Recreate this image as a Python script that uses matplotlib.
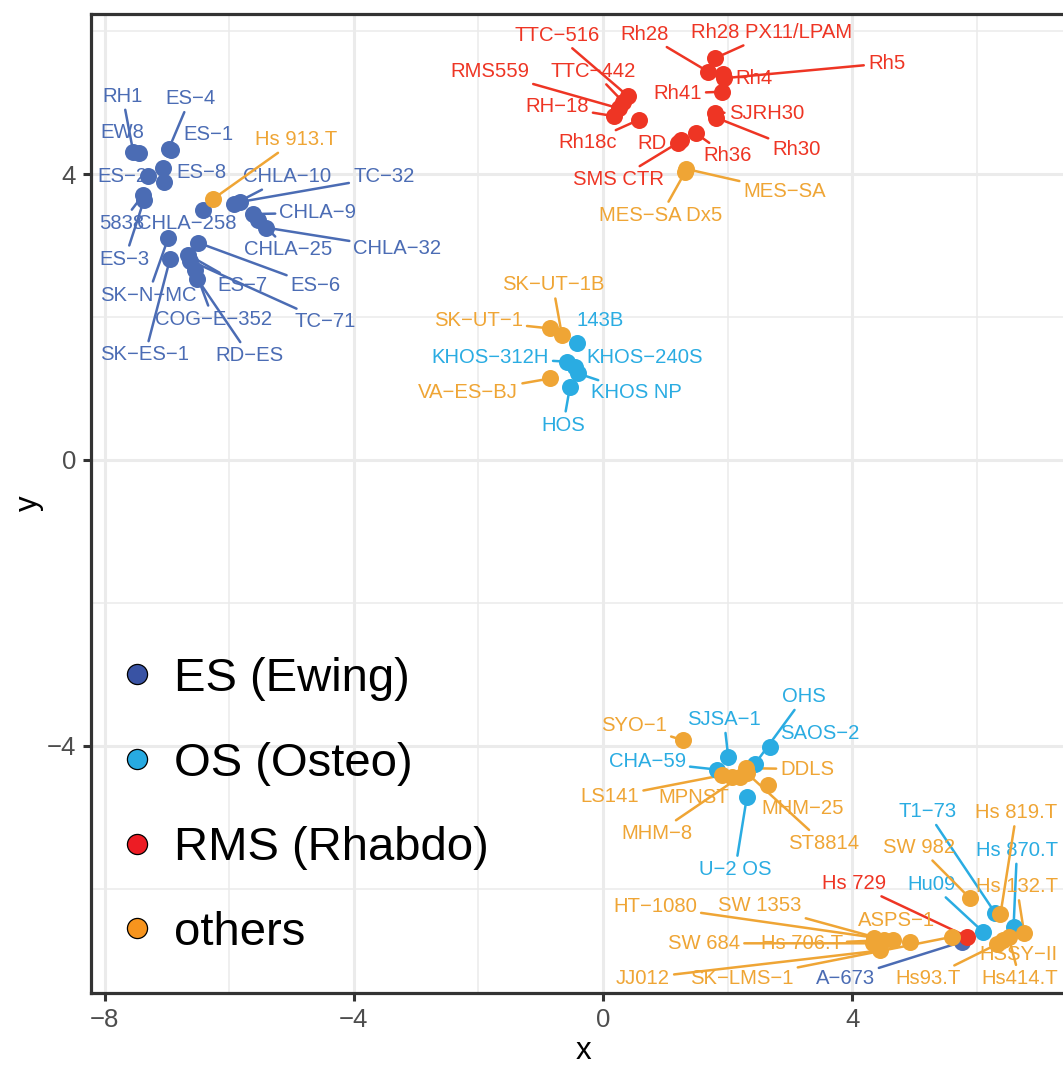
import math

import matplotlib
matplotlib.use('Agg')
import matplotlib.pyplot as plt
import matplotlib.text as mtext
from matplotlib.lines import Line2D
from matplotlib.ticker import MultipleLocator

plt.rcParams['font.family'] = ['Liberation Sans', 'DejaVu Sans']

# ---- cell line embedding, one block per group ----
es_names = ['RH1', 'EW8', 'ES-4', 'ES-1', 'ES-8', 'ES-2', 'ES-5', '5838', 'ES-3',
            'CHLA-258', 'CHLA-10', 'TC-32', 'CHLA-9', 'CHLA-25', 'CHLA-32',
            'SK-N-MC', 'SK-ES-1', 'ES-6', 'ES-7', 'TC-71', 'COG-E-352', 'RD-ES', 'A-673']
es_x = [-7.54, -7.45, -6.97, -6.94, -7.06, -7.30, -7.05, -7.38, -7.37,
        -6.42, -5.92, -5.82, -5.61, -5.53, -5.41,
        -6.98, -6.95, -6.50, -6.66, -6.63, -6.55, -6.51, 5.76]
es_y = [4.31, 4.29, 4.35, 4.34, 4.09, 3.97, 3.89, 3.71, 3.63,
        3.49, 3.58, 3.61, 3.44, 3.36, 3.25,
        3.10, 2.81, 3.04, 2.87, 2.79, 2.66, 2.53, -6.74]

os_names = ['143B', 'KHOS-312H', 'KHOS-240S', 'KHOS NP', 'HOS', 'SJSA-1', 'SAOS-2',
            'OHS', 'CHA-59', 'U-2 OS', 'T1-73', 'Hs 870.T', 'Hu09']
os_x = [-0.42, -0.58, -0.45, -0.40, -0.53, 2.01, 2.68, 2.44, 1.825, 2.31, 6.29, 6.59, 6.10]
os_y = [1.63, 1.375, 1.30, 1.21, 1.025, -4.15, -4.01, -4.25, -4.33, -4.71, -6.33, -6.53, -6.60]

rms_names = ['TTC-516', 'TTC-442', 'RMS559', 'RH-18', 'Rh18c', 'Rh28', 'Rh28 PX11/LPAM',
             'Rh4', 'Rh5', 'Rh41', 'SJRH30', 'Rh30', 'Rh36', 'RD', 'SMS CTR', 'Hs 729']
rms_x = [0.40, 0.32, 0.25, 0.17, 0.58, 1.69, 1.80, 1.92, 1.94, 1.91, 1.79, 1.81, 1.49, 1.25, 1.21, 5.85]
rms_y = [5.09, 5.01, 4.92, 4.81, 4.76, 5.43, 5.62, 5.40, 5.34, 5.15, 4.86, 4.79, 4.57, 4.48, 4.44, -6.67]

oth_names = ['Hs 913.T', 'MES-SA', 'MES-SA Dx5', 'SK-UT-1', 'SK-UT-1B', 'VA-ES-BJ',
             'SYO-1', 'LS141', 'MPNST', 'MHM-8', 'DDLS', 'ST8814', 'MHM-25',
             'HT-1080', 'SW 684', 'SW 1353', 'Hs 706.T', 'JJ012', 'ASPS-1', 'SK-LMS-1',
             'SW 982', 'Hs 819.T', 'Hs 132.T', 'HSSY-II', 'Hs414.T', 'Hs93.T']
oth_x = [-6.26, 1.34, 1.32, -0.85, -0.66, -0.85,
         1.29, 1.905, 2.065, 2.20, 2.295, 2.31, 2.65,
         4.35, 4.33, 4.51, 4.66, 4.45, 4.93, 5.60,
         5.89, 6.38, 6.76, 6.42, 6.51, 6.33]
oth_y = [3.65, 4.07, 4.03, 1.84, 1.75, 1.14,
         -3.92, -4.41, -4.44, -4.43, -4.31, -4.38, -4.55,
         -6.68, -6.76, -6.71, -6.71, -6.86, -6.74, -6.67,
         -6.13, -6.35, -6.62, -6.72, -6.67, -6.77]

group_labels = ['ES (Ewing)', 'OS (Osteo)', 'RMS (Rhabdo)', 'others']
legend_colors = ['#3953A4', '#27AAE1', '#ED1C24', '#F7941D']
point_colors = ['#4B6CB4', '#2AACE2', '#EE3524', '#EFA535']

# repelled label placement (offset from the point, in pixels)
label_offsets = {
    'RH1': (-10.6, 55.7), 'EW8': (-16.7, 21), 'ES-4': (21.3, 50.4), 'ES-1': (37.6, 15.7),
    'ES-8': (38.4, -5), 'ES-2': (-25.6, 0), '5838': (-21.6, -28.3), 'ES-3': (-19, -58.6),
    'CHLA-258': (-16.6, -12.6), 'CHLA-10': (52.7, 27.3), 'TC-32': (143.3, 25),
    'CHLA-9': (64.4, 1.3), 'CHLA-25': (30, -30), 'CHLA-32': (131.6, -21),
    'SK-N-MC': (-20, -56.7), 'SK-ES-1': (-25, -95.7), 'ES-6': (117.7, -43.3),
    'ES-7': (54.4, -31), 'TC-71': (135, -61), 'COG-E-352': (18.3, -49.3),
    'RD-ES': (52, -76.4), 'A-673': (-116.7, -36.6),
    'TTC-516': (-71, 61), 'TTC-442': (-29.4, 30.7), 'RMS559': (-129, 36.6),
    'RH-18': (-56.6, 9.3), 'Rh18c': (-52, -23.3), 'Rh28': (-63.3, 37.7),
    'Rh28 PX11/LPAM': (56.7, 25.6), 'Rh4': (31.3, -4.3), 'Rh5': (162.7, 15),
    'Rh41': (-44.4, -1.6), 'SJRH30': (51.7, -1.3), 'Rh30': (80.7, -32),
    'Rh36': (31.7, -22.7), 'RD': (-28.4, -4.3), 'SMS CTR': (-60, -36.6),
    'Hs 729': (-113.3, 53.4),
    '143B': (23.3, 22.6), 'KHOS-312H': (-76.7, 4.4), 'KHOS-240S': (70, 9.4),
    'KHOS NP': (58.4, -19.4), 'HOS': (-6.7, -38.3), 'SJSA-1': (-4.3, 37.4),
    'SAOS-2': (50, 13.4), 'OHS': (49.3, 67.3), 'CHA-59': (-69.4, 7.6),
    'U-2 OS': (-11.7, -72.6), 'T1-73': (-67.7, 101), 'Hs 870.T': (3.4, 76.7),
    'Hu09': (-51.6, 47.7),
    'Hs 913.T': (83.4, 59.3), 'MES-SA': (98.3, -22.4), 'MES-SA Dx5': (-24.3, -43.3),
    'SK-UT-1': (-71.7, 7.6), 'SK-UT-1B': (-9, 50), 'VA-ES-BJ': (-81.7, -14.4),
    'SYO-1': (-49.3, 15), 'LS141': (-111.7, -21.7), 'MPNST': (-38.4, -20),
    'MHM-8': (-83.3, -56.6), 'DDLS': (61.3, -1), 'ST8814': (76.6, -70),
    'MHM-25': (34.4, -23.3), 'HT-1080': (-219, 31.3), 'SW 684': (-168.7, 0),
    'SW 1353': (-124, 34), 'Hs 706.T': (-91.6, -4), 'JJ012': (-237.3, -27.6),
    'ASPS-1': (-13.3, 21.7), 'SK-LMS-1': (-210, -41.6), 'SW 982': (-50.7, 51),
    'Hs 819.T': (16, 101.3), 'Hs 132.T': (-7.3, 46.6), 'HSSY-II': (15.6, -14.3),
    'Hs414.T': (11, -41.6), 'Hs93.T': (-69, -34.3),
}

groups = [
    (es_names, es_x, es_y),
    (os_names, os_x, os_y),
    (rms_names, rms_x, rms_y),
    (oth_names, oth_x, oth_y),
]

fig = plt.figure(figsize=(10.63, 10.66), dpi=100)
ax = fig.add_axes([90.5 / 1063, 73 / 1066, 986 / 1063, 979 / 1066])
ax.set_xlim(-8.226, 7.6)
ax.set_ylim(-7.455, 6.238)

# theme_bw style grid and frame
ax.xaxis.set_major_locator(MultipleLocator(4))
ax.yaxis.set_major_locator(MultipleLocator(4))
ax.xaxis.set_minor_locator(MultipleLocator(2))
ax.yaxis.set_minor_locator(MultipleLocator(2))
ax.grid(which='major', color='#EBEBEB', lw=2.2, zorder=0)
ax.grid(which='minor', color='#EBEBEB', lw=1.1, zorder=0)
ax.set_axisbelow(True)
for sp in ax.spines.values():
    sp.set_color('#333333')
    sp.set_linewidth(2.3)
ax.tick_params(which='major', direction='out', length=5.5, width=2.2, color='#333333',
               labelsize=18.5, labelcolor='#4D4D4D', pad=5)
ax.tick_params(which='minor', length=0)
ax.set_xlabel('x', fontsize=22.5, labelpad=3)
ax.set_ylabel('y', fontsize=22.5, labelpad=2)

anns = []
for (names, xs, ys), col in zip(groups, point_colors):
    for name, x, y in zip(names, xs, ys):
        off = label_offsets.get(name)
        if off is None:
            continue
        ann = ax.annotate(name.replace('-', '\u2212'), (x, y), xytext=off,
                          textcoords='offset pixels', ha='center', va='center',
                          fontsize=14.6, color=col, zorder=2, annotation_clip=False,
                          arrowprops=dict(arrowstyle='-', color=col, lw=1.8,
                                          shrinkA=1, shrinkB=0))
        anns.append(ann)
    ax.scatter(xs, ys, s=150, color=col, linewidths=0, zorder=3)

# short segments are dropped, as ggrepel does
fig.canvas.draw()
renderer = fig.canvas.get_renderer()
for ann in anns:
    bb = mtext.Text.get_window_extent(ann, renderer)
    px, py = ax.transData.transform(ann.xy)
    ddx = max(bb.x0 - px, 0, px - bb.x1)
    ddy = max(bb.y0 - py, 0, py - bb.y1)
    if math.hypot(ddx, ddy) < 14:
        ann.arrow_patch.set_visible(False)

handles = [Line2D([], [], ls='', marker='o', ms=14.5, mfc=c, mec='black', mew=0.9)
           for c in legend_colors]
ax.legend(handles, group_labels, loc='upper left',
          bbox_to_anchor=(113 / 1063, 1 - 657 / 1066), bbox_transform=fig.transFigure,
          frameon=False, fontsize=34, handlelength=1.0, handletextpad=0.29,
          labelspacing=0.86, borderpad=0, borderaxespad=0)

fig.savefig('out.png', dpi=100)
